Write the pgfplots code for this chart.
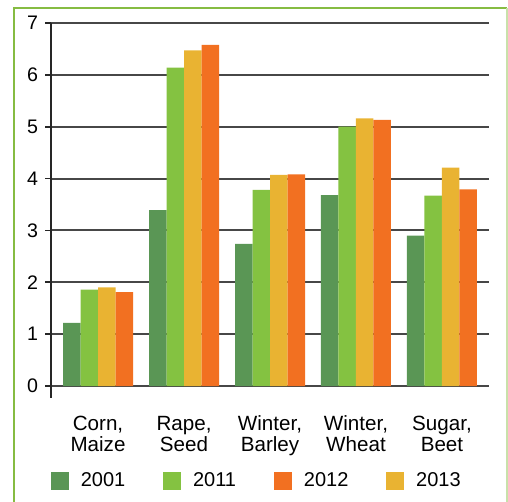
\documentclass[border=0pt]{standalone}
\usepackage{pgfplots}
\pgfplotsset{compat=1.18}
\usepackage{fontspec}
\setmainfont{Liberation Sans}

\definecolor{c2001}{RGB}{90,150,85}
\definecolor{c2011}{RGB}{132,194,65}
\definecolor{c2012}{RGB}{242,112,33}
\definecolor{c2013}{RGB}{233,179,50}
\definecolor{cframe}{RGB}{134,188,66}

\begin{document}
\begin{tikzpicture}[x=1pt,y=1pt]
\useasboundingbox (-25.5,-52) rectangle (228.5,199);
% outer frame
\draw[cframe, line width=1.2pt] (-18.5,-60) -- (-18.5,195) -- (228,195);
\draw[cframe!45, line width=0.6pt] (228,195) -- (228,-60);
\begin{axis}[
  at={(0,0)}, anchor=south west,
  scale only axis, width=219pt, height=187.5pt,
  xmin=-0.547, xmax=4.547, ymin=-0.231, ymax=7,
  ybar=0pt, bar width=8.75pt,
  axis x line*=bottom, axis y line*=left,
  x axis line style={draw=none},
  y axis line style={black!85, line width=0.9pt, -},
  xtick={0,...,4},
  xticklabels={{Corn,\\Maize},{Rape,\\Seed},{Winter,\\Barley},{Winter,\\Wheat},{Sugar,\\Beet}},
  xtick style={draw=none},
  xticklabel style={align=center, font=\fontsize{10.3}{10.5}\selectfont, yshift=-2.5pt},
  ytick={0,...,7},
  ytick style={black!85, line width=0.9pt},
  tick align=outside, major tick length=3pt,
  ymajorgrids, major grid style={black!72, line width=1pt},
  yticklabel style={font=\fontsize{9.8}{10}\selectfont},
  /pgf/number format/assume math mode=true,
  legend columns=4,
  legend cell align=left,
  legend style={draw=none, fill=none, inner sep=0pt, outer sep=0pt,
    at={(axis description cs:0,-0.2213)}, anchor=west,
    font=\fontsize{10}{10}\selectfont,
    /tikz/every even column/.append style={column sep=17pt},
    /tikz/every odd column/.append style={column sep=4pt}},
]
\addplot[fill=c2001, draw=none, forget plot, bar shift=-13.125pt] coordinates {(0,1.22) (1,3.39) (2,2.74) (3,3.68) (4,2.90)};
\addplot[fill=c2011, draw=none, forget plot, bar shift=-4.375pt] coordinates {(0,1.86) (1,6.14) (2,3.78) (3,5.00) (4,3.67)};
\addplot[fill=c2013, draw=none, forget plot, bar shift=4.375pt] coordinates {(0,1.90) (1,6.47) (2,4.07) (3,5.16) (4,4.21)};
\addplot[fill=c2012, draw=none, forget plot, bar shift=13.125pt] coordinates {(0,1.81) (1,6.58) (2,4.08) (3,5.13) (4,3.79)};
\addlegendimage{legend image code/.code={\fill[c2001] (0pt,-4.1pt) rectangle (8.5pt,4.1pt);}}
\addlegendentry{2001}
\addlegendimage{legend image code/.code={\fill[c2011] (0pt,-4.1pt) rectangle (8.5pt,4.1pt);}}
\addlegendentry{2011}
\addlegendimage{legend image code/.code={\fill[c2012] (0pt,-4.1pt) rectangle (8.5pt,4.1pt);}}
\addlegendentry{2012}
\addlegendimage{legend image code/.code={\fill[c2013] (0pt,-4.1pt) rectangle (8.5pt,4.1pt);}}
\addlegendentry{2013}
\end{axis}
\end{tikzpicture}
\end{document}
